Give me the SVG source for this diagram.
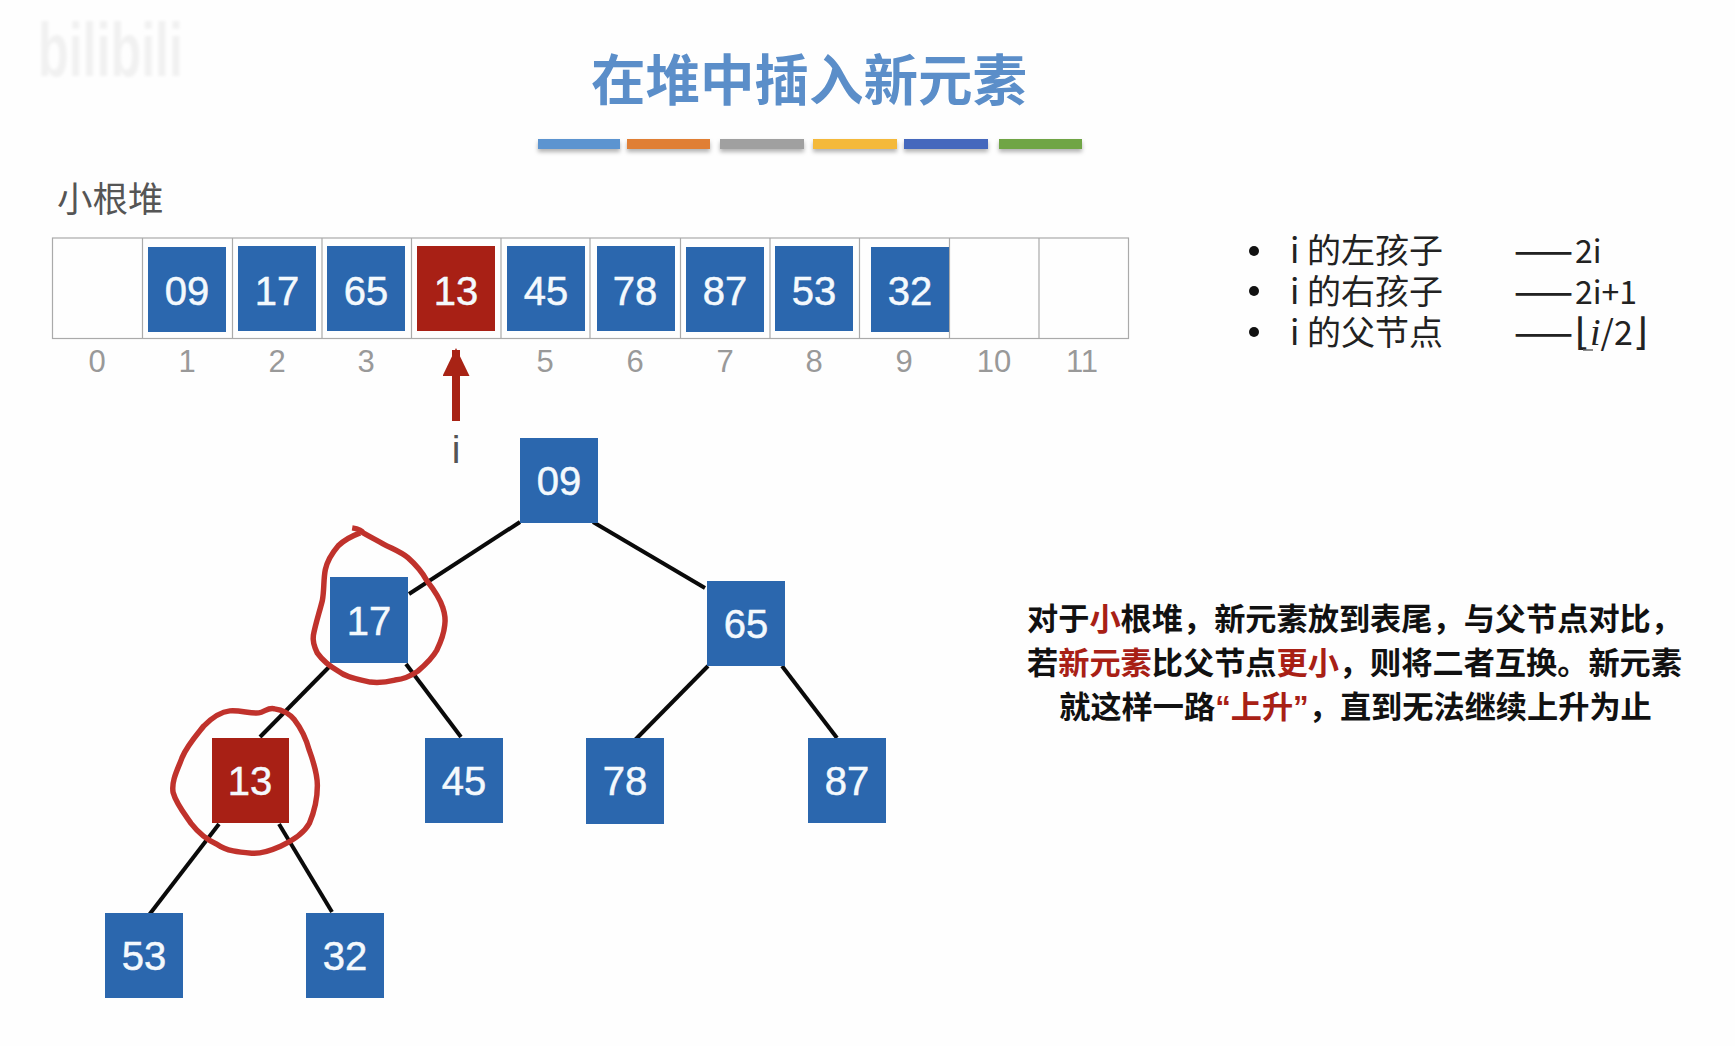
<svg xmlns="http://www.w3.org/2000/svg" width="1735" height="1046" viewBox="0 0 1735 1046">
<defs>
<filter id="soft" x="-10%" y="-50%" width="120%" height="250%"><feDropShadow dx="0" dy="3" stdDeviation="2" flood-color="#000" flood-opacity="0.3"/></filter>
<filter id="blur" x="-10%" y="-20%" width="120%" height="140%"><feGaussianBlur stdDeviation="1.5"/></filter>
<marker id="head" markerUnits="userSpaceOnUse" markerWidth="28" markerHeight="34" refX="26" refY="13.5" orient="auto"><path d="M0 0L28 13.5L0 27Z" fill="#a82315"/></marker>
</defs>
<style>
text{font-family:"Liberation Sans","Noto Sans CJK SC",sans-serif}
.b{fill:#2b67ae}.r{fill:#a82015}
.n{font-size:40px;fill:#f4f9fd;stroke:#f4f9fd;stroke-width:.5;text-anchor:middle}
.ix{font-size:31px;fill:#999;text-anchor:middle}
.cell{fill:none;stroke:#aaa;stroke-width:1.2}
.e{stroke:#0a0a0a;stroke-width:4;fill:none}
.c{fill:none;stroke:#c0322c;stroke-width:5.5;stroke-linejoin:round}
.li{font-size:34px;fill:#222;font-family:"Noto Sans CJK SC","Noto Sans",sans-serif;font-weight:400}
.dash{font-size:35px;font-weight:500;letter-spacing:2px}
.v{font-size:32px}
.d{font-size:31.2px;font-weight:700;fill:#111;text-anchor:middle}
.hi{fill:#a82015}
</style>
<rect width="1735" height="1046" fill="#fefefe"/>
<text x="38" y="76" font-size="76" font-weight="700" fill="#f1f1f1" textLength="145" lengthAdjust="spacingAndGlyphs" filter="url(#blur)">bilibili</text>
<text id="title" x="809" y="100" font-size="54.5" font-weight="700" fill="#5b8ec9" text-anchor="middle" style="font-family:'Noto Sans CJK SC',sans-serif">在堆中插入新元素</text>
<g id="bars" filter="url(#soft)">
<rect x="538" y="139" width="82" height="10" fill="#5b94d0"/>
<rect x="627" y="139" width="83" height="10" fill="#e07f35"/>
<rect x="720" y="139" width="84" height="10" fill="#a0a0a0"/>
<rect x="813" y="139" width="84" height="10" fill="#f4b93a"/>
<rect x="904" y="139" width="84" height="10" fill="#4468bd"/>
<rect x="999" y="139" width="83" height="10" fill="#6fa545"/>
</g>
<text id="heap-label" x="57" y="212" font-size="35.500" fill="#555" style="font-family:'Noto Sans CJK SC',sans-serif;font-weight:400">小根堆</text>
<g id="array-grid">
<rect class="cell" x="52.500" y="238" width="1076" height="100.500"/>
<path class="cell" d="M142.500 238V338.500M232.500 238V338.500M322 238V338.500M411.500 238V338.500M501 238V338.500M590 238V338.500M680.500 238V338.500M770 238V338.500M859.500 238V338.500M949.500 238V338.500M1039 238V338.500"/>
</g>
<g id="array-cells">
<g id="a1"><rect class="b" x="148" y="247" width="78" height="85"/><text class="n" x="187" y="304.500">09</text></g>
<g id="a2"><rect class="b" x="238" y="246" width="78" height="85"/><text class="n" x="277" y="304.500">17</text></g>
<g id="a3"><rect class="b" x="327" y="246" width="78" height="85"/><text class="n" x="366" y="304.500">65</text></g>
<g id="a4"><rect class="r" x="417" y="246" width="78" height="85"/><text class="n" x="456" y="304.500">13</text></g>
<g id="a5"><rect class="b" x="507" y="246" width="78" height="85"/><text class="n" x="546" y="304.500">45</text></g>
<g id="a6"><rect class="b" x="597" y="246" width="78" height="85"/><text class="n" x="635" y="304.500">78</text></g>
<g id="a7"><rect class="b" x="686" y="247" width="78" height="85"/><text class="n" x="725" y="304.500">87</text></g>
<g id="a8"><rect class="b" x="775" y="246" width="78" height="85"/><text class="n" x="814" y="304.500">53</text></g>
<g id="a9"><rect class="b" x="871" y="247" width="78" height="85"/><text class="n" x="910" y="304.500">32</text></g>
</g>
<g id="indices">
<text class="ix" x="97" y="372">0</text><text class="ix" x="187" y="372">1</text><text class="ix" x="277" y="372">2</text><text class="ix" x="366" y="372">3</text><text class="ix" x="545" y="372">5</text><text class="ix" x="635" y="372">6</text><text class="ix" x="725" y="372">7</text><text class="ix" x="814" y="372">8</text><text class="ix" x="904" y="372">9</text><text class="ix" x="994" y="372">10</text><text class="ix" x="1082" y="372">11</text>
</g>
<g id="pointer">
<line x1="456" y1="421" x2="456" y2="350" stroke="#a82315" stroke-width="8" marker-end="url(#head)"/>
<text x="456" y="463" font-size="39" fill="#555" text-anchor="middle">i</text>
</g>
<g id="connectors">
<path class="e" d="M520 522L409 594"/>
<path class="e" d="M593 522L705 588"/>
<path class="e" d="M330 666L260 737"/>
<path class="e" d="M406 664L461 737"/>
<path class="e" d="M708 666L635 740"/>
<path class="e" d="M782 666L837 738"/>
<path class="e" d="M219 824L149 915"/>
<path class="e" d="M279 824L332 912"/>
</g>
<g id="n09"><rect class="b" x="520" y="438" width="78" height="85"/><text class="n" x="559" y="495">09</text></g>
<g id="n17"><rect class="b" x="330" y="577" width="78" height="86"/><text class="n" x="369" y="634.500">17</text></g>
<g id="n65"><rect class="b" x="707" y="581" width="78" height="85"/><text class="n" x="746" y="638">65</text></g>
<g id="n13"><rect class="r" x="212" y="738" width="77" height="85"/><text class="n" x="250" y="795">13</text></g>
<g id="n45"><rect class="b" x="425" y="738" width="78" height="85"/><text class="n" x="464" y="795">45</text></g>
<g id="n78"><rect class="b" x="586" y="738" width="78" height="86"/><text class="n" x="625" y="795">78</text></g>
<g id="n87"><rect class="b" x="808" y="738" width="78" height="85"/><text class="n" x="847" y="795">87</text></g>
<g id="n53"><rect class="b" x="105" y="913" width="78" height="85"/><text class="n" x="144" y="970">53</text></g>
<g id="n32"><rect class="b" x="306" y="913" width="78" height="85"/><text class="n" x="345" y="970">32</text></g>
<g id="marks" transform="matrix(.9949 0 0 .9948 0 2.600)">
<path class="c" d="M354 528C360 529 364 531 365 533C372 537 378 540 385 544C394 549 403 552 410 558C419 566 424 572 429 581C436 590 442 598 445 608C447 614 448 620 447 626C446 636 443 643 439 651C434 660 427 666 420 672C413 677 405 680 397 681C389 683 380 684 372 683C360 680 349 679 340 672C331 667 324 661 319 654C316 648 314 642 315 636C317 625 321 613 324 601C326 590 325 580 327 570C329 561 334 553 340 546C346 540 354 536 362 533"/>
<path class="c" d="M231 712C241 711 252 715 260 714C266 713 270 708 276 710C284 711 291 715 296 721C303 730 308 741 311 752C315 763 319 775 319 787C319 800 316 813 311 825C305 836 293 843 282 848C273 852 263 856 253 855C240 854 228 853 218 846C207 841 199 834 192 825C185 815 177 805 174 794C172 782 179 770 183 759C188 747 197 737 205 727C212 720 221 713 231 712"/>
</g>
<g id="legend">
<circle cx="1254" cy="251" r="5" fill="#111"/><circle cx="1254" cy="291" r="5" fill="#111"/><circle cx="1254" cy="332" r="5" fill="#111"/>
<text class="li" x="1290" y="263">i 的左孩子</text>
<text class="li" x="1290" y="304">i 的右孩子</text>
<text class="li" x="1290" y="345">i 的父节点</text>
<text class="li" x="1514" y="263"><tspan class="dash">——</tspan><tspan class="v">2i</tspan></text>
<text class="li" x="1514" y="304"><tspan class="dash">——</tspan><tspan class="v">2i+1</tspan></text>
<text class="li" x="1514" y="345"><tspan class="dash">——</tspan><tspan style="font-family:'DejaVu Sans',sans-serif;font-size:38px;font-weight:300">⌊</tspan><tspan font-style="italic" style="font-family:'Liberation Serif',serif;font-size:38px">i</tspan><tspan style="font-size:34px">/2</tspan><tspan style="font-family:'DejaVu Sans',sans-serif;font-size:38px;font-weight:300">⌋</tspan></text>
<path d="M1583 350H1593" stroke="#666" stroke-width="1.500"/>
</g>
<g id="description">
<text class="d" x="1354.500" y="630">对于<tspan class="hi">小</tspan>根堆，新元素放到表尾，与父节点对比，</text>
<text class="d" x="1354.500" y="674">若<tspan class="hi">新元素</tspan>比父节点<tspan class="hi">更小</tspan>，则将二者互换。新元素</text>
<text class="d" x="1355.500" y="718">就这样一路<tspan class="hi">“上升”</tspan>，直到无法继续上升为止</text>
</g>
</svg>
